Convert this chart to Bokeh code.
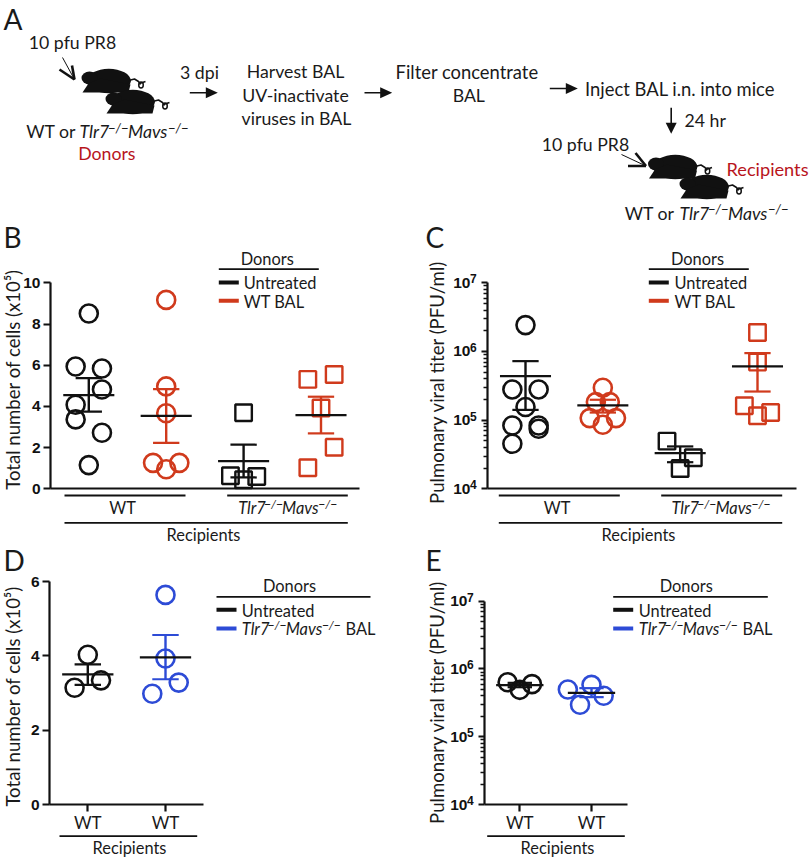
import math
from bokeh.plotting import figure
from bokeh.embed import file_html
from bokeh.resources import INLINE
from bokeh.core.properties import value
from bokeh.models import Range1d, LinearAxis, LogAxis, LogScale, FixedTicker

# ---------- data (panel B: cells x10^5) ----------
B_groups = [1, 2, 3, 4]
B_wt_unt_x = [1, 0.83, 1.17, 1.17, 0.83, 0.83, 1.17, 1]
B_wt_unt_y = [8.51, 5.94, 5.84, 4.82, 4.08, 3.37, 2.72, 1.15]
B_wt_bal_x = [2, 2, 2, 1.83, 2.17, 2]
B_wt_bal_y = [9.17, 4.97, 3.67, 1.26, 1.26, 0.95]
B_ko_unt_x = [3, 2.83, 3.17, 3]
B_ko_unt_y = [3.69, 0.63, 0.60, 0.44]
B_ko_bal_x = [3.83, 4.17, 4, 4.17, 3.83]
B_ko_bal_y = [5.31, 5.55, 3.92, 2.02, 1.02]
B_mean = [4.55, 3.54, 1.34, 3.58]
B_upper = [5.37, 4.84, 2.14, 4.47]
B_lower = [3.75, 2.23, 0.55, 2.69]

# ---------- panel C: PFU/ml ----------
C_groups = [1, 2, 3, 4]
C_wt_unt_x = [1, 0.83, 1.17, 1, 0.83, 1.17, 1.17, 0.83]
C_wt_unt_y = [2.42e6, 2.8e5, 2.8e5, 1.55e5, 8.36e4, 8.36e4, 7.48e4, 4.52e4]
C_wt_bal_x = [2, 1.91, 2.09, 1.83, 2.17, 2]
C_wt_bal_y = [2.96e5, 1.83e5, 1.83e5, 1.07e5, 1.07e5, 8.55e4]
C_ko_unt_x = [2.83, 3.17, 3]
C_ko_unt_y = [4.94e4, 2.83e4, 1.98e4]
C_ko_bal_x = [4, 4, 3.83, 4, 4.17]
C_ko_bal_y = [1.89e6, 7.0e5, 1.62e5, 1.16e5, 1.29e5]
C_mean = [4.37e5, 1.64e5, 3.31e4, 6.05e5]
C_upper = [7.23e5, 1.98e5, 4.14e4, 9.46e5]
C_lower = [1.41e5, 1.29e5, 2.44e4, 2.61e5]

# ---------- panel D ----------
D_groups = [1, 2]
D_unt_x = [1, 1.17, 0.83]
D_unt_y = [4.03, 3.34, 3.14]
D_bal_x = [2, 2.17, 1.83, 2]
D_bal_y = [3.93, 3.28, 2.98, 5.64]
D_mean = [3.50, 3.96]
D_upper = [3.77, 4.56]
D_lower = [3.22, 3.37]

# ---------- panel E ----------
E_groups = [1, 2]
E_unt_x = [0.83, 1.17, 1]
E_unt_y = [6.38e5, 5.97e5, 4.92e5]
E_bal_x = [1.67, 2, 2.17, 1.84]
E_bal_y = [4.98e5, 5.83e5, 4.02e5, 2.96e5]
E_mean = [5.77e5, 4.45e5]
E_upper = [6.24e5, 5.21e5]
E_lower = [5.38e5, 3.84e5]

# ---------- tick labels ----------
LIN10 = [0, 2, 4, 6, 8, 10]
LIN6 = [0, 2, 4, 6]
LOG_TICKS = [1e4, 1e5, 1e6, 1e7]
LOG_BASE = {10000: "10", 100000: "10", 1000000: "10", 10000000: "10"}
LOG_EXP = ["4", "5", "6", "7"]

BLACK = "#111111"
RED = "#d03a1c"
BLUE = "#2d4bd6"
DARKRED = "#b8141c"
TEXT = "#1a1a1a"
SANS = "Lato"
TXT = "17.7px"     # protocol text
SMALL = "16.4px"   # text beside the plots
YLAB1 = "18.6px"
YLAB2 = "18.6px"
LETTER = "28px"

W, H = 810, 857
p = figure(width=W, height=H, x_range=Range1d(0, W), y_range=Range1d(H, 0),
           x_axis_location=None, y_axis_location=None, toolbar_location=None,
           output_backend="svg", min_border=0, outline_line_color=None)
p.grid.visible = False


def xr(px1, v1, px2, v2):
    k = (v2 - v1) / (px2 - px1)
    return Range1d(start=v1 + (0 - px1) * k, end=v1 + (W - px1) * k)


def yr(px1, v1, px2, v2):
    k = (v2 - v1) / (px2 - px1)
    return Range1d(start=v1 + (H - px1) * k, end=v1 + (0 - px1) * k)


def yrlog(px1, d1, px2, d2):
    k = (d2 - d1) / (px2 - px1)
    return Range1d(start=10 ** (d1 + (H - px1) * k), end=10 ** (d1 + (0 - px1) * k))


p.extra_x_ranges = {
    "Bx": xr(88.3, 1, 320.5, 4), "Cx": xr(525, 1, 757, 4),
    "Dx": xr(87.3, 1, 165, 2), "Ex": xr(519.3, 1, 591, 2),
}
p.extra_y_ranges = {
    "By": yr(488.3, 0, 282.3, 10), "Cy": yrlog(488.3, 4, 282.3, 7),
    "Dy": yr(804, 0, 581, 6), "Ey": yrlog(804, 4, 600.7, 7),
}
p.extra_y_scales = {"Cy": LogScale(), "Ey": LogScale()}


def style_axis(ax):
    ax.axis_line_color = BLACK
    ax.axis_line_width = 2.2
    ax.major_tick_line_color = BLACK
    ax.major_tick_line_width = 2.2
    ax.major_tick_out = 7
    ax.major_tick_in = 0
    ax.minor_tick_line_color = None


def y_axis(name, xpos, ticks, log=False):
    if log:
        ax = LogAxis(y_range_name=name, fixed_location=xpos, bounds=(ticks[0], ticks[-1]))
        ax.ticker = FixedTicker(ticks=ticks,
                                minor_ticks=[k * 10 ** d for d in range(4, 7) for k in range(2, 10)])
        ax.major_label_overrides = LOG_BASE
    else:
        ax = LinearAxis(y_range_name=name, fixed_location=xpos, bounds=(ticks[0], ticks[-1]))
        ax.ticker = FixedTicker(ticks=ticks)
    style_axis(ax)
    ax.major_label_standoff = 3
    if log:
        ax.major_tick_out = 6
        ax.minor_tick_line_color = BLACK
        ax.minor_tick_line_width = 1.4
        ax.minor_tick_out = 4
        ax.minor_tick_in = 0
        ax.major_label_standoff = 11
        p.text([xpos - 17.5] * len(ticks), ticks, text=LOG_EXP, y_range_name=name,
               text_font=value("Liberation Sans"), text_font_size="12px", text_font_style="bold",
               text_color=BLACK, text_align="left", text_baseline="middle", y_offset=-4)
    ax.major_label_text_font = "Liberation Sans"
    ax.major_label_text_font_style = "bold"
    ax.major_label_text_font_size = "15.5px"
    ax.major_label_text_color = BLACK
    p.add_layout(ax, "left")


def x_axis(name, ypos, lo, hi, ticks=(), labels=None):
    ax = LinearAxis(x_range_name=name, fixed_location=ypos, bounds=(lo, hi))
    ax.ticker = FixedTicker(ticks=list(ticks))
    style_axis(ax)
    if labels:
        ax.major_label_overrides = labels
    ax.major_label_text_font = SANS
    ax.major_label_text_font_size = "17px"
    ax.major_label_text_color = TEXT
    ax.major_label_standoff = 0
    p.add_layout(ax, "below")


def px_to_x(rng, px):
    return rng.start + (rng.end - rng.start) * px / W


def points(xs, ys, color, marker, xn, yn):
    size, lw = (18, 2.6) if marker == "circle" else (16.5, 2.4)
    p.scatter(xs, ys, marker=marker, size=size, fill_color=None, line_color=color,
              line_width=lw, x_range_name=xn, y_range_name=yn)


def err(gs, mean, up, lo, colors, xn, yn, mean_half, cap_half):
    xs = gs
    p.segment(xs, lo, xs, up, line_color=colors, line_width=2.4, x_range_name=xn, y_range_name=yn)
    p.segment([g - cap_half for g in gs], up, [g + cap_half for g in gs], up,
              line_color=colors, line_width=2.2, x_range_name=xn, y_range_name=yn)
    p.segment([g - cap_half for g in gs], lo, [g + cap_half for g in gs], lo,
              line_color=colors, line_width=2.2, x_range_name=xn, y_range_name=yn)
    p.segment([g - mean_half for g in gs], mean, [g + mean_half for g in gs], mean,
              line_color=BLACK, line_width=2.2, x_range_name=xn, y_range_name=yn)


def txt(x, y, s, size=TXT, align="center", color=TEXT, style="normal", angle=0.0, font=SANS):
    p.text([x], [y], text=[s], text_font=value(font), text_font_size=size, text_align=align,
           text_baseline="middle", text_color=color, text_font_style=style, angle=angle)


def hline(x0, x1, y, w=1.8, color=BLACK):
    p.segment([x0], [y], [x1], [y], line_color=color, line_width=w)


def genotype(x, y, small=False, suffix=None):
    """Tlr7-/-Mavs-/- with raised knock-out marks, x is the left edge."""
    k = 0.905 if small else 1.0
    s = SMALL if small else TXT
    sup = "12px" if small else "13px"
    txt(x, y, "Tlr7", size=s, align="left", style="italic")
    txt(x + 28.5 * k, y - 4, "−/−", size=sup, align="left", style="italic")
    txt(x + 48.5 * k, y, "Mavs", size=s, align="left", style="italic")
    txt(x + 88.5 * k, y - 4, "−/−", size=sup, align="left", style="italic")
    if suffix:
        txt(x + 103.7, y, suffix, size=s, align="left")


def arrow_h(x0, x1, y):
    p.segment([x0], [y], [x1 - 11], [y], line_color=BLACK, line_width=1.6)
    p.patch([x1 - 12, x1, x1 - 12], [y - 5.5, y, y + 5.5], color=BLACK, line_width=0)


def arrow_v(x, y0, y1):
    p.segment([x], [y0], [x], [y1 - 10], line_color=BLACK, line_width=1.6)
    p.patch([x - 5.5, x, x + 5.5], [y1 - 11, y1, y1 - 11], color=BLACK, line_width=0)


def mouse(dx, dy):
    p.ellipse([108.3 + dx], [80.5 + dy], width=44, height=24.5, color=BLACK, line_width=0)
    p.ellipse([89 + dx], [77.5 + dy], width=16, height=13, color=BLACK, line_width=0)
    p.patch([88 + dx, 82 + dx, 128 + dx, 130 + dx, 100 + dx],
            [83 + dy, 92 + dy, 92 + dy, 84 + dy, 78 + dy], color=BLACK, line_width=0)
    p.line([127 + dx, 130 + dx, 134 + dx, 138 + dx, 140 + dx],
           [84 + dy, 79.5 + dy, 78.5 + dy, 81 + dy, 84 + dy], line_color=BLACK, line_width=1.5)
    p.ellipse([140.5 + dx], [84.5 + dy], width=4.5, height=6, fill_color=None,
              line_color=BLACK, line_width=1.5)
    p.line([139 + dx, 145 + dx], [83 + dy, 81 + dy], line_color=BLACK, line_width=1.5)


# ---------- panel A: protocol ----------
mouse(0, 0)
mouse(24, 21)
mouse(566.5, 86)
mouse(598, 106)

txt(3, 18, "A", size=LETTER, align="left")
txt(72, 42, "10 pfu PR8")
p.segment([62], [57], [74], [79], line_color=BLACK, line_width=1)
p.segment([59, 71.5], [69, 65], [74, 74], [79, 79], line_color=BLACK, line_width=2.6)
txt(199, 72, "3 dpi")
arrow_h(189.3, 217.3, 92.3)
txt(295, 71, "Harvest BAL")
txt(295, 95, "UV-inactivate")
txt(296, 118, "viruses in BAL")
arrow_h(364, 391.7, 92.3)
txt(466.5, 71, "Filter concentrate", size="18.4px")
txt(468.3, 95, "BAL")
arrow_h(549.3, 577.3, 88)
txt(679.5, 88, "Inject BAL i.n. into mice", size="18.4px")
arrow_v(670.7, 107.3, 133.3)
txt(704.7, 119.5, "24 hr")
txt(585, 143.5, "10 pfu PR8")
p.segment([621], [154], [645.5], [165.5], line_color=BLACK, line_width=1)
p.segment([627.5, 635], [165.5, 152.5], [645.5, 645.5], [165.5, 165.5], line_color=BLACK, line_width=2.6)
txt(25.7, 131, "WT or", align="left")
genotype(79, 131)
txt(106.3, 153, "Donors", color=DARKRED)
txt(767, 168, "Recipients", color=DARKRED, size="18.2px")
txt(624.3, 212.5, "WT or", align="left")
genotype(679, 212.5)

# ---------- panel B ----------
txt(3, 236, "B", size=LETTER, align="left")
y_axis("By", 50, LIN10)
x_axis("Bx", 488.3, px_to_x(p.extra_x_ranges["Bx"], 50), px_to_x(p.extra_x_ranges["Bx"], 359))
points(B_wt_unt_x, B_wt_unt_y, BLACK, "circle", "Bx", "By")
points(B_wt_bal_x, B_wt_bal_y, RED, "circle", "Bx", "By")
points(B_ko_unt_x, B_ko_unt_y, BLACK, "square", "Bx", "By")
points(B_ko_bal_x, B_ko_bal_y, RED, "square", "Bx", "By")
err(B_groups, B_mean, B_upper, B_lower, [BLACK, RED, BLACK, RED], "Bx", "By", 0.33, 0.17)
txt(12, 379, "Total number of cells (x10⁵)", size=YLAB1, angle=math.pi / 2)
hline(64, 185, 495)
hline(226.7, 347.3, 495)
hline(64, 347.3, 522.3)
txt(122, 507, "WT", size=SMALL)
genotype(237.7, 507, small=True)
txt(203, 534, "Recipients", size=SMALL)
txt(266.7, 257.5, "Donors", size=SMALL)
hline(218.3, 318.3, 268.7)
hline(218.3, 238.3, 282, 4, BLACK)
hline(218.3, 238.3, 300.3, 4, RED)
txt(243.3, 282, "Untreated", size=SMALL, align="left")
txt(243.3, 300.5, "WT BAL", size=SMALL, align="left")

# ---------- panel C ----------
txt(425, 236, "C", size=LETTER, align="left")
y_axis("Cy", 487, LOG_TICKS, log=True)
x_axis("Cx", 488.3, px_to_x(p.extra_x_ranges["Cx"], 487), px_to_x(p.extra_x_ranges["Cx"], 795.7))
points(C_wt_unt_x, C_wt_unt_y, BLACK, "circle", "Cx", "Cy")
points(C_wt_bal_x, C_wt_bal_y, RED, "circle", "Cx", "Cy")
points(C_ko_unt_x, C_ko_unt_y, BLACK, "square", "Cx", "Cy")
points(C_ko_bal_x, C_ko_bal_y, RED, "square", "Cx", "Cy")
err(C_groups, C_mean, C_upper, C_lower, [BLACK, RED, BLACK, RED], "Cx", "Cy", 0.33, 0.17)
txt(436.7, 381.7, "Pulmonary viral titer (PFU/ml)", size=YLAB2, angle=math.pi / 2)
hline(498.3, 619.3, 495)
hline(660.7, 781.7, 495)
hline(498.3, 781.7, 522.3)
txt(556.7, 507, "WT", size=SMALL)
genotype(671, 507, small=True)
txt(638, 534, "Recipients", size=SMALL)
txt(697, 257.5, "Donors", size=SMALL)
hline(648.3, 748.3, 268.7)
hline(648.3, 668.3, 282, 4, BLACK)
hline(648.3, 668.3, 300.3, 4, RED)
txt(674, 282, "Untreated", size=SMALL, align="left")
txt(674, 300.5, "WT BAL", size=SMALL, align="left")

# ---------- panel D ----------
txt(3, 559, "D", size=LETTER, align="left")
y_axis("Dy", 49, LIN6)
x_axis("Dx", 804, px_to_x(p.extra_x_ranges["Dx"], 49), px_to_x(p.extra_x_ranges["Dx"], 203.3),
       ticks=D_groups, labels={1: "WT", 2: "WT"})
points(D_unt_x, D_unt_y, BLACK, "circle", "Dx", "Dy")
points(D_bal_x, D_bal_y, BLUE, "circle", "Dx", "Dy")
err(D_groups, D_mean, D_upper, D_lower, [BLACK, BLUE], "Dx", "Dy", 0.33, 0.17)
txt(12, 695.8, "Total number of cells (x10⁵)", size=YLAB1, angle=math.pi / 2)
hline(59, 196.7, 835.7)
txt(129, 847, "Recipients", size=SMALL)
txt(289, 585, "Donors", size=SMALL)
hline(216, 370, 596.3)
hline(216, 236, 609.3, 4, BLACK)
hline(216, 236, 628, 4, BLUE)
txt(241.3, 609.5, "Untreated", size=SMALL, align="left")
genotype(241.3, 628, small=True, suffix="BAL")

# ---------- panel E ----------
txt(425, 559, "E", size=LETTER, align="left")
y_axis("Ey", 484, LOG_TICKS, log=True)
x_axis("Ex", 804, px_to_x(p.extra_x_ranges["Ex"], 484), px_to_x(p.extra_x_ranges["Ex"], 626.7),
       ticks=E_groups, labels={1: "WT", 2: "WT"})
points(E_unt_x, E_unt_y, BLACK, "circle", "Ex", "Ey")
points(E_bal_x, E_bal_y, BLUE, "circle", "Ex", "Ey")
err(E_groups, E_mean, E_upper, E_lower, [BLACK, BLUE], "Ex", "Ey", 0.33, 0.17)
txt(436.7, 701.7, "Pulmonary viral titer (PFU/ml)", size=YLAB2, angle=math.pi / 2)
hline(486.7, 624.3, 835.7)
txt(557, 847, "Recipients", size=SMALL)
txt(685.7, 585, "Donors", size=SMALL)
hline(612.7, 767.3, 596.3)
hline(612.7, 632.7, 609.3, 4, BLACK)
hline(612.7, 632.7, 628, 4, BLUE)
txt(638.3, 609.5, "Untreated", size=SMALL, align="left")
genotype(638.3, 628, small=True, suffix="BAL")

open("out.html", "w").write(file_html(p, INLINE))
